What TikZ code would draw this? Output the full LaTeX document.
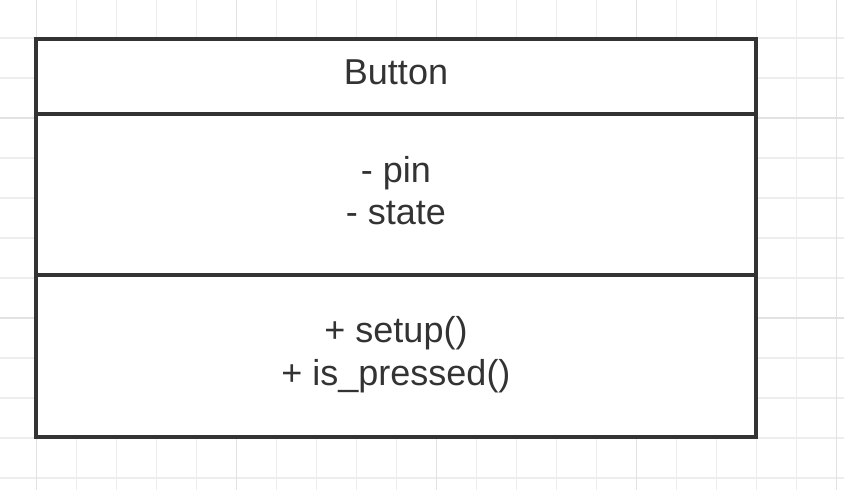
\documentclass[tikz,border=0pt]{standalone}
\usepackage{fontspec}
\setmainfont{Liberation Sans}
\definecolor{ink}{HTML}{333333}
\definecolor{gridminor}{HTML}{EDEDED}
\definecolor{gridmajor}{HTML}{E2E2E2}
\tikzset{
  minorline/.style={draw=gridminor, line width=1.2pt},
  majorline/.style={draw=gridmajor, line width=1.2pt},
  section/.style={draw=ink, line width=4pt, fill=white, rectangle, inner sep=0pt, minimum width=720pt},
  label/.style={text=ink, font=\fontsize{36}{43}\selectfont, anchor=base, inner sep=0pt},
}
\begin{document}
\begin{tikzpicture}[x=1pt, y=-1pt]
\useasboundingbox (0,0) rectangle (844,490);
% grid
\foreach \gx in {36.5,76.5,...,836.5} \draw[minorline] (\gx,0) -- (\gx,490);
\foreach \gy in {38,78,...,478} \draw[minorline] (0,\gy) -- (844,\gy);
\foreach \gx in {36.5,236.5,436.5,636.5,836.5} \draw[majorline] (\gx,0) -- (\gx,490);
\foreach \gy in {118,318} \draw[majorline] (0,\gy) -- (844,\gy);
% class box
\node[section, minimum height=75pt] (title) at (396,76.5) {};
\node[section, minimum height=161pt] (attrs) at (396,194.5) {};
\node[section, minimum height=162pt] (methods) at (396,356) {};
% texts
\node[label] (name) at (396,84) {Button};
\node[label] (pin) at (396,182) {- pin};
\node[label] (state) at (396,224) {- state};
\node[label] (setup) at (396,342) {+ setup()};
\node[label] (pressed) at (396,385) {+ is\_pressed()};
\end{tikzpicture}
\end{document}
